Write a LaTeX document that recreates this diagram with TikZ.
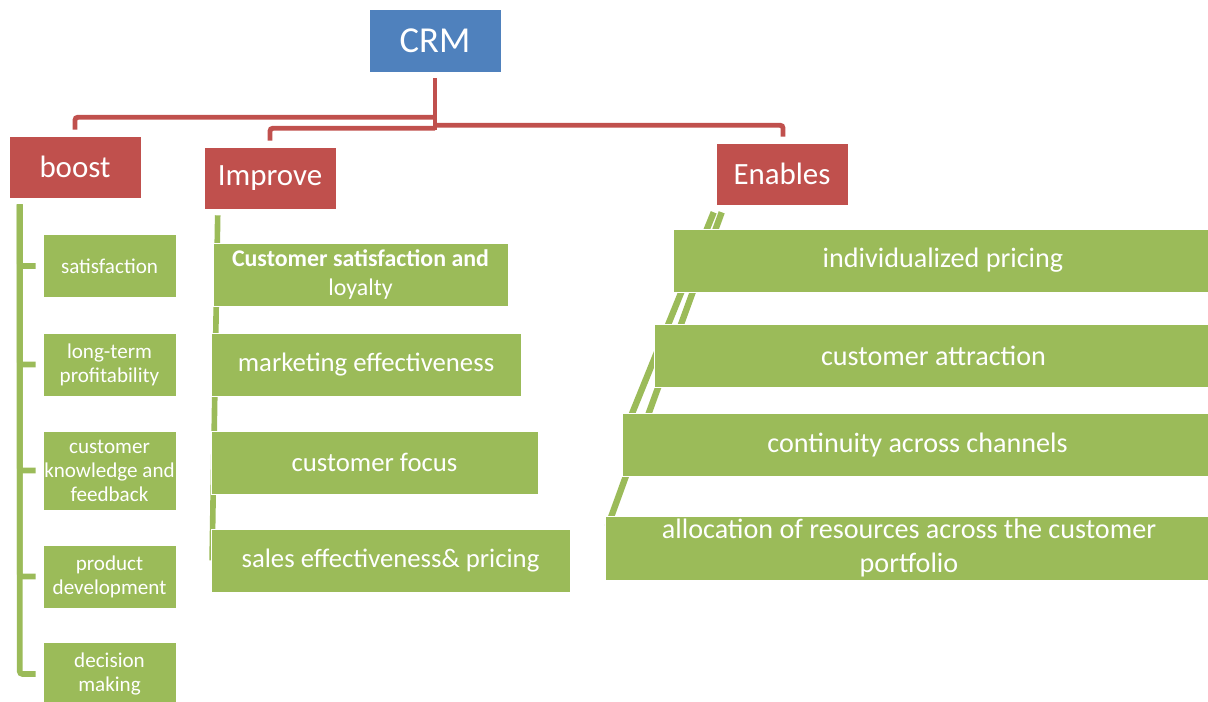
\documentclass[tikz,border=0pt]{standalone}
\usepackage{fontspec}
\setmainfont{Carlito}
\usetikzlibrary{backgrounds}

\definecolor{crmblue}{HTML}{4F81BD}
\definecolor{crmred}{HTML}{C0504D}
\definecolor{crmgreen}{HTML}{9BBB59}

\begin{document}
\begin{tikzpicture}[x=0.025cm, y=-0.025cm, semithick]

%====Stili dei blocchi e delle linee=========================================

	\tikzstyle{box}=[rectangle, draw=white, line width=0.4pt, text=white, align=center, inner sep=0pt]
	\tikzstyle{root}=[box, fill=crmblue, minimum width=3.3cm, minimum height=1.575cm, font=\fontsize{26}{30}\selectfont]
	\tikzstyle{branch}=[box, fill=crmred, minimum width=3.3cm, minimum height=1.55cm, font=\fontsize{22}{26}\selectfont]
	\tikzstyle{leaf}=[box, fill=crmgreen, minimum width=3.325cm, minimum height=1.575cm, font=\fontsize{15}{17}\selectfont]
	\tikzstyle{item}=[box, fill=crmgreen, minimum height=1.575cm, font=\fontsize{19}{22}\selectfont]
	\tikzstyle{rline}=[crmred, line width=3.5pt, rounded corners=2pt]
	\tikzstyle{gline}=[crmgreen, line width=4pt, rounded corners=2pt]

	\useasboundingbox (0,0) rectangle (1208,702);

%====Radice e rami=========================================================

	\node[root]   (crm)     at (435,40.5) {CRM};
	\node[branch] (boost)   at (75,167)   {boost};
	\node[branch] (improve) at (270,178)  {Improve};
	\node[branch] (enables) at (782,174)  {Enables};

%====Colonna boost=========================================================

	\node[leaf] (b1) at (109.5,266)   {satisfaction};
	\node[leaf] (b2) at (109.5,364.5) {long-term\\profitability};
	\node[leaf, minimum height=1.975cm] (b3) at (109.5,470.5) {customer\\knowledge and\\feedback};
	\node[leaf] (b4) at (109.5,576.5) {product\\development};
	\node[leaf] (b5) at (109.5,674)   {decision\\making};

%====Colonna Improve=======================================================

	\node[item, minimum width=7.375cm, font=\fontsize{17}{20}\selectfont] (i1) at (360.5,274.5) {\textbf{Customer satisfaction and}\\loyalty};
	\node[item, minimum width=7.75cm]  (i2) at (366,364.5)   {marketing effectiveness};
	\node[item, minimum width=8.175cm] (i3) at (374.5,462.5) {customer focus};
	\node[item, minimum width=8.975cm] (i4) at (390.5,560.5) {sales effectiveness\& pricing};

%====Colonna Enables=======================================================

	\node[item, minimum width=13.5cm,  font=\fontsize{20}{24}\selectfont] (e1) at (943,260.5)   {individualized pricing};
	\node[item, minimum width=13.975cm, font=\fontsize{20}{24}\selectfont] (e2) at (933.5,355.5) {customer attraction};
	\node[item, minimum width=14.775cm, font=\fontsize{20}{24}\selectfont] (e3) at (917.5,444.5) {continuity across channels};
	\node[item, minimum width=15.2cm, minimum height=1.6cm, font=\fontsize{20}{24}\selectfont] (e4) at (909,548) {allocation of resources across the customer\\portfolio};

%====Collegamenti===========================================================

	\draw[rline] (crm.south) ++(0,6) coordinate (hub) -- ++(0,52);
	\path (boost.north)   ++(0,-6) coordinate (tb);
	\path (improve.north) ++(0,-6) coordinate (ti);
	\path (enables.north) ++(1,-6) coordinate (te);
	\draw[rline] (hub) ++(0,39) -| (tb);
	\draw[rline] (hub) ++(0,50) -| (ti);
	\draw[rline] (hub) ++(0,47) -| (te);

	\path (boost.south west) ++(11,6) coordinate (spine);
	\foreach \b in {b1,b2,b3,b4,b5}
		\draw[gline, shorten >=5pt] (spine) |- (\b.west);

	\begin{scope}[on background layer]
		\draw[gline] (improve.south west) ++(14,6) -- ([xshift=1pt]i4.west);
		\draw[gline, line width=4.5pt] (enables.south west) ++(6,7)  -- ++(-114,314);
		\draw[gline, line width=4.5pt] (enables.south west) ++(-2,7) -- ++(-84,207);
	\end{scope}

\end{tikzpicture}
\end{document}
